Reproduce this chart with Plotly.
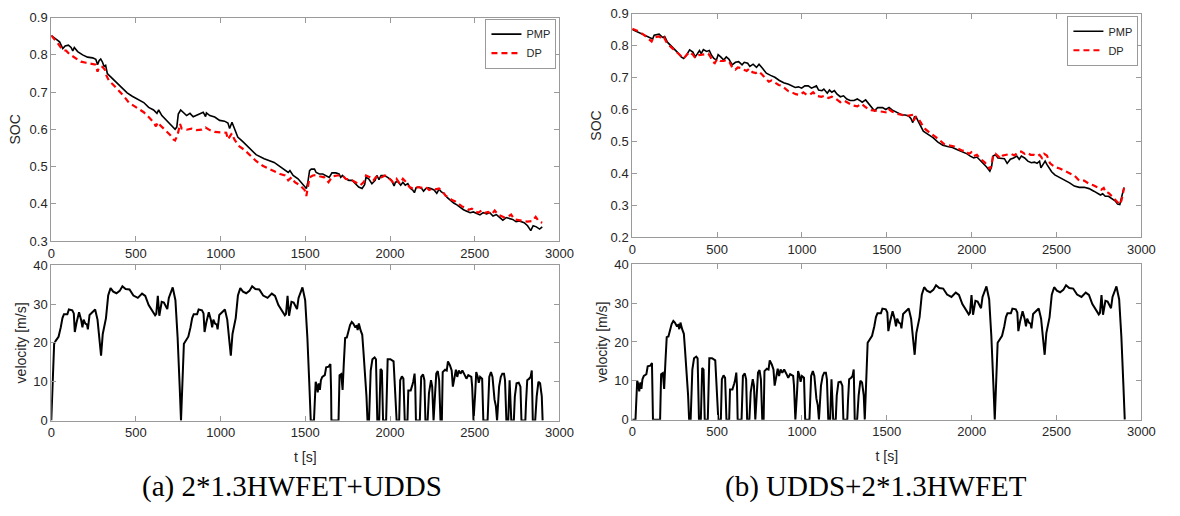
import plotly.graph_objects as go

# ---------------- Drive cycles ----------------
# HWFET cycle scaled by 1.3: time [s], speed [m/s]
hwfet_t = [0, 17, 27, 43, 56, 66, 75, 95, 104, 124, 133, 139, 149, 164, 176, 184, 191, 201,
           211, 216, 226, 240, 259, 273, 284, 294, 304, 313, 323, 336, 350, 366, 385, 404,
           420, 439, 462, 485, 511, 536, 555, 575, 594, 613, 620, 629, 638, 652, 665, 685,
           694, 717, 733, 746, 758, 766]
hwfet_v = [0, 19.8, 20.6, 21.6, 24.0, 26.4, 27.4, 27.4, 28.6, 28.4, 27.6, 22.8, 25.2, 27.9,
           26.0, 24.0, 26.0, 25.0, 24.7, 23.5, 27.2, 27.7, 28.6, 26.0, 21.9, 16.7, 22.3, 24.3,
           26.4, 32.2, 34.1, 33.2, 32.8, 33.4, 34.6, 33.9, 33.75, 32.2, 31.6, 32.7, 32.1,
           29.75, 28.5, 27.1, 27.5, 32.1, 27.0, 30.6, 30.4, 28.7, 31.6, 34.3, 31.0, 21.4, 8.9, 0]

# UDDS cycle: time [s], speed [m/s]
udds_t = [0, 19, 29, 35, 41, 48, 54, 60, 68, 83, 91, 106, 116, 120, 122, 164, 170, 180, 188,
          195, 203, 213, 222, 232, 242, 251, 261, 271, 277, 284, 294, 304, 311, 319, 329, 335,
          344, 354, 364, 377, 385, 393, 404, 412, 420, 427, 445, 454, 470, 489, 497, 507, 522,
          528, 538, 547, 555, 571, 576, 590, 600, 605, 613, 617, 621, 644, 652, 663, 671, 677,
          690, 698, 710, 717, 725, 733, 741, 750, 758, 766, 774, 779, 793, 803, 810, 822, 832,
          839, 847, 857, 865, 874, 884, 895, 907, 919, 930, 948, 953, 961, 971, 977, 986, 992,
          1000, 1012, 1019, 1044, 1054, 1064, 1073, 1085, 1093, 1100, 1112, 1122, 1131, 1141,
          1147, 1155, 1166, 1174, 1184, 1199, 1205, 1215, 1228, 1238, 1244, 1267, 1271, 1278,
          1290, 1298, 1305, 1311, 1325, 1334, 1344, 1354, 1364, 1369]
udds_v = [0, 0, 10.0, 9.2, 7.25, 9.6, 7.9, 10.4, 11.25, 11.7, 13.75, 13.9, 14.6, 8.0, 0, 0,
          11.7, 12.0, 7.9, 14.6, 21.25, 21.4, 22.75, 24.6, 25.4, 25.0, 24.2, 24.4, 23.3, 25.0,
          23.3, 22.1, 17.9, 12.9, 6.25, 0, 0, 12.9, 15.8, 16.25, 15.8, 0, 0, 13.3, 12.9, 0, 0,
          15.8, 15.8, 15.25, 8.75, 0, 0, 10.4, 11.4, 10.8, 0, 0, 7.75, 7.75, 9.2, 10.0, 12.1,
          8.75, 0, 0, 11.25, 11.9, 10.4, 0, 0, 7.1, 10.4, 8.75, 0, 7.1, 12.1, 12.75, 10.4, 0,
          0, 12.5, 13.1, 12.9, 15.25, 14.2, 12.9, 8.75, 11.25, 13.1, 11.25, 12.9, 12.1, 12.9,
          11.9, 10.8, 11.7, 11.25, 8.75, 0, 7.1, 12.5, 11.25, 9.75, 11.25, 10.8, 0, 0, 11.25,
          12.5, 11.25, 5.4, 3.75, 0, 8.75, 11.25, 12.1, 12.1, 10.4, 0, 0, 10.4, 0, 0, 6.25,
          9.6, 9.75, 8.75, 0, 0, 4.6, 10.4, 10.8, 11.25, 12.9, 0, 0, 6.25, 10.0, 9.6, 6.25, 0]

# Cycle start times within each combined route
route_a_hwfet_starts = [0, 766]
route_a_udds_start = 1532
route_b_udds_start = 0
route_b_hwfet_starts = [1370, 2136]

# ---------------- SOC trajectories ----------------
# (a) 2*1.3HWFET+UDDS
soc_a_pmp_t = [0, 29, 49, 68, 82, 101, 117, 127, 136, 156, 185, 214, 244, 263, 273, 283, 292,
               302, 312, 321, 331, 360, 390, 419, 448, 478, 517, 546, 575, 604, 624, 634, 653,
               682, 712, 731, 741, 750, 764, 780, 799, 819, 838, 868, 897, 911, 916, 936, 965,
               994, 1023, 1043, 1053, 1067, 1082, 1101, 1131, 1170, 1209, 1257, 1316, 1351,
               1380, 1399, 1409, 1428, 1457, 1486, 1506, 1515, 1525, 1535, 1554, 1564, 1583,
               1603, 1622, 1641, 1657, 1680, 1699, 1709, 1719, 1738, 1757, 1777, 1796, 1815,
               1835, 1850, 1858, 1874, 1893, 1912, 1922, 1935, 1947, 1966, 1986, 2009, 2024,
               2032, 2047, 2063, 2076, 2090, 2105, 2121, 2134, 2144, 2154, 2173, 2187, 2198,
               2212, 2225, 2241, 2260, 2276, 2289, 2303, 2318, 2337, 2357, 2376, 2395, 2415,
               2434, 2453, 2473, 2492, 2512, 2531, 2550, 2570, 2589, 2608, 2628, 2647, 2666,
               2686, 2705, 2724, 2744, 2763, 2792, 2812, 2831, 2845, 2864, 2883, 2899]
soc_a_pmp = [0.852, 0.842, 0.835, 0.817, 0.824, 0.826, 0.820, 0.811, 0.820, 0.809, 0.800,
             0.794, 0.792, 0.788, 0.774, 0.785, 0.789, 0.781, 0.769, 0.772, 0.750, 0.737,
             0.724, 0.709, 0.698, 0.689, 0.680, 0.672, 0.659, 0.652, 0.643, 0.652, 0.637,
             0.624, 0.611, 0.600, 0.606, 0.641, 0.652, 0.646, 0.637, 0.643, 0.634, 0.640,
             0.646, 0.634, 0.644, 0.637, 0.633, 0.624, 0.622, 0.617, 0.602, 0.619, 0.602,
             0.579, 0.567, 0.550, 0.532, 0.521, 0.511, 0.500, 0.491, 0.484, 0.489, 0.476,
             0.467, 0.451, 0.441, 0.458, 0.489, 0.493, 0.493, 0.484, 0.480, 0.480, 0.476,
             0.471, 0.483, 0.483, 0.480, 0.471, 0.476, 0.467, 0.463, 0.463, 0.454, 0.445,
             0.441, 0.451, 0.471, 0.467, 0.454, 0.463, 0.476, 0.465, 0.476, 0.476, 0.471,
             0.463, 0.448, 0.458, 0.460, 0.450, 0.458, 0.450, 0.454, 0.441, 0.437, 0.430,
             0.443, 0.445, 0.441, 0.434, 0.441, 0.443, 0.441, 0.437, 0.428, 0.439, 0.432,
             0.428, 0.417, 0.408, 0.402, 0.397, 0.389, 0.384, 0.380, 0.376, 0.378, 0.373,
             0.370, 0.376, 0.373, 0.376, 0.367, 0.371, 0.363, 0.356, 0.363, 0.361, 0.358,
             0.352, 0.354, 0.349, 0.341, 0.328, 0.341, 0.338, 0.332, 0.338]

soc_a_dp_t = [0, 19, 39, 64, 88, 107, 127, 146, 175, 205, 244, 263, 273, 283, 302, 318, 326,
              341, 370, 400, 429, 458, 487, 517, 546, 575, 604, 618, 630, 643, 673, 702, 721,
              731, 741, 750, 760, 770, 799, 828, 858, 887, 911, 936, 965, 1004, 1033, 1043,
              1058, 1066, 1082, 1111, 1140, 1170, 1209, 1248, 1296, 1335, 1351, 1380, 1399,
              1419, 1438, 1467, 1496, 1506, 1515, 1525, 1544, 1564, 1583, 1612, 1637, 1660,
              1690, 1719, 1738, 1767, 1796, 1825, 1845, 1858, 1883, 1902, 1916, 1931, 1950,
              1970, 1989, 2018, 2038, 2057, 2076, 2095, 2115, 2134, 2154, 2173, 2192, 2212,
              2231, 2250, 2270, 2289, 2308, 2328, 2347, 2366, 2386, 2405, 2425, 2444, 2463,
              2483, 2502, 2521, 2541, 2560, 2579, 2599, 2618, 2637, 2657, 2676, 2695, 2715,
              2734, 2753, 2783, 2812, 2841, 2860, 2880, 2899]
soc_a_dp = [0.852, 0.842, 0.831, 0.815, 0.811, 0.802, 0.796, 0.791, 0.782, 0.779, 0.776,
            0.774, 0.755, 0.768, 0.768, 0.759, 0.744, 0.730, 0.718, 0.704, 0.689, 0.672,
            0.663, 0.654, 0.646, 0.633, 0.619, 0.608, 0.619, 0.611, 0.598, 0.585, 0.573,
            0.570, 0.580, 0.593, 0.615, 0.602, 0.599, 0.602, 0.598, 0.599, 0.605, 0.598,
            0.593, 0.591, 0.591, 0.573, 0.585, 0.589, 0.572, 0.554, 0.545, 0.532, 0.515,
            0.502, 0.491, 0.483, 0.480, 0.476, 0.463, 0.471, 0.458, 0.450, 0.437, 0.421,
            0.445, 0.471, 0.476, 0.477, 0.474, 0.471, 0.458, 0.474, 0.476, 0.476, 0.467,
            0.465, 0.458, 0.450, 0.458, 0.476, 0.471, 0.463, 0.471, 0.476, 0.471, 0.476,
            0.471, 0.458, 0.467, 0.454, 0.467, 0.458, 0.445, 0.441, 0.445, 0.443, 0.443,
            0.445, 0.437, 0.441, 0.439, 0.441, 0.434, 0.422, 0.415, 0.410, 0.406, 0.399,
            0.393, 0.389, 0.384, 0.387, 0.380, 0.376, 0.382, 0.376, 0.378, 0.371, 0.382,
            0.371, 0.367, 0.363, 0.365, 0.371, 0.358, 0.356, 0.354, 0.352, 0.354, 0.365,
            0.352, 0.349]

# (b) UDDS+2*1.3HWFET
soc_b_pmp_t = [0, 33, 71, 100, 120, 129, 158, 178, 191, 207, 236, 265, 288, 303, 319, 338,
               357, 371, 384, 396, 406, 419, 438, 454, 467, 481, 496, 506, 521, 539, 554, 569,
               589, 608, 627, 647, 660, 680, 693, 712, 732, 747, 766, 790, 815, 840, 867, 892,
               921, 940, 960, 979, 998, 1017, 1037, 1056, 1071, 1085, 1098, 1118, 1129, 1149,
               1162, 1176, 1191, 1207, 1226, 1245, 1264, 1284, 1307, 1326, 1342, 1355, 1375,
               1394, 1408, 1427, 1446, 1475, 1494, 1513, 1533, 1552, 1571, 1590, 1609, 1628,
               1642, 1653, 1663, 1672, 1686, 1695, 1715, 1743, 1772, 1801, 1830, 1858, 1887,
               1916, 1944, 1973, 1992, 2012, 2031, 2050, 2069, 2088, 2107, 2117, 2126, 2140,
               2155, 2174, 2193, 2209, 2228, 2247, 2266, 2280, 2293, 2312, 2331, 2351, 2370,
               2385, 2400, 2408, 2420, 2433, 2443, 2458, 2471, 2490, 2519, 2548, 2577, 2605,
               2634, 2663, 2692, 2720, 2739, 2759, 2772, 2787, 2806, 2825, 2845, 2860, 2873,
               2883, 2893, 2898]
soc_b_pmp = [0.851, 0.843, 0.833, 0.826, 0.821, 0.833, 0.836, 0.826, 0.829, 0.811, 0.796,
             0.780, 0.765, 0.760, 0.770, 0.787, 0.780, 0.765, 0.775, 0.785, 0.775, 0.788,
             0.782, 0.785, 0.770, 0.760, 0.755, 0.772, 0.765, 0.755, 0.765, 0.758, 0.740,
             0.748, 0.750, 0.740, 0.748, 0.745, 0.735, 0.742, 0.732, 0.742, 0.730, 0.714,
             0.707, 0.701, 0.691, 0.684, 0.679, 0.674, 0.669, 0.671, 0.667, 0.674, 0.674,
             0.667, 0.671, 0.674, 0.661, 0.659, 0.664, 0.651, 0.661, 0.654, 0.659, 0.648,
             0.640, 0.643, 0.633, 0.628, 0.628, 0.633, 0.628, 0.623, 0.630, 0.618, 0.608,
             0.596, 0.606, 0.606, 0.600, 0.606, 0.598, 0.593, 0.586, 0.583, 0.583, 0.580,
             0.572, 0.559, 0.577, 0.577, 0.562, 0.552, 0.532, 0.522, 0.512, 0.498, 0.488,
             0.484, 0.481, 0.474, 0.468, 0.461, 0.454, 0.448, 0.451, 0.441, 0.431, 0.420,
             0.407, 0.420, 0.454, 0.458, 0.448, 0.448, 0.446, 0.431, 0.444, 0.448, 0.454,
             0.444, 0.454, 0.448, 0.438, 0.433, 0.435, 0.431, 0.438, 0.417, 0.428, 0.438,
             0.428, 0.415, 0.405, 0.395, 0.387, 0.380, 0.370, 0.360, 0.356, 0.356, 0.352,
             0.344, 0.339, 0.332, 0.336, 0.328, 0.328, 0.322, 0.314, 0.304, 0.302, 0.324,
             0.349, 0.356]

soc_b_dp_t = [0, 33, 71, 100, 114, 125, 158, 178, 187, 207, 236, 265, 288, 303, 322, 338,
              357, 371, 390, 409, 429, 448, 461, 473, 486, 500, 519, 539, 554, 573, 589, 608,
              622, 641, 654, 674, 689, 708, 728, 747, 766, 786, 805, 820, 840, 863, 882, 901,
              921, 940, 963, 988, 1008, 1027, 1046, 1066, 1085, 1114, 1133, 1156, 1176, 1201,
              1226, 1249, 1272, 1297, 1326, 1350, 1369, 1394, 1408, 1446, 1475, 1504, 1513,
              1533, 1561, 1590, 1619, 1648, 1657, 1672, 1686, 1705, 1724, 1753, 1782, 1810,
              1839, 1868, 1897, 1925, 1944, 1963, 1983, 1998, 2012, 2031, 2050, 2075, 2094,
              2107, 2117, 2126, 2140, 2155, 2170, 2184, 2209, 2232, 2251, 2266, 2280, 2293,
              2312, 2328, 2347, 2366, 2385, 2400, 2414, 2427, 2443, 2462, 2490, 2519, 2548,
              2577, 2605, 2634, 2663, 2692, 2720, 2749, 2764, 2778, 2791, 2806, 2825, 2845,
              2860, 2873, 2883, 2893, 2898]
soc_b_dp = [0.853, 0.846, 0.833, 0.821, 0.813, 0.826, 0.829, 0.821, 0.826, 0.806, 0.793,
            0.780, 0.768, 0.760, 0.772, 0.780, 0.772, 0.762, 0.770, 0.772, 0.775, 0.775,
            0.765, 0.750, 0.745, 0.758, 0.752, 0.752, 0.755, 0.748, 0.732, 0.725, 0.732,
            0.730, 0.725, 0.721, 0.728, 0.717, 0.714, 0.719, 0.709, 0.697, 0.687, 0.691,
            0.684, 0.677, 0.674, 0.667, 0.657, 0.654, 0.648, 0.646, 0.654, 0.646, 0.646,
            0.654, 0.643, 0.640, 0.643, 0.636, 0.640, 0.633, 0.623, 0.628, 0.620, 0.613,
            0.610, 0.618, 0.610, 0.600, 0.598, 0.596, 0.593, 0.590, 0.600, 0.593, 0.586,
            0.583, 0.580, 0.583, 0.565, 0.577, 0.572, 0.555, 0.540, 0.527, 0.517, 0.505,
            0.491, 0.488, 0.484, 0.476, 0.471, 0.471, 0.461, 0.466, 0.454, 0.458, 0.446,
            0.435, 0.425, 0.413, 0.425, 0.458, 0.461, 0.454, 0.446, 0.456, 0.458, 0.461,
            0.456, 0.461, 0.468, 0.468, 0.461, 0.464, 0.458, 0.458, 0.454, 0.458, 0.448,
            0.461, 0.456, 0.431, 0.420, 0.415, 0.407, 0.400, 0.393, 0.377, 0.377, 0.367,
            0.362, 0.354, 0.349, 0.354, 0.339, 0.339, 0.329, 0.319, 0.309, 0.302, 0.316,
            0.344, 0.354]

x_ticks = [0, 500, 1000, 1500, 2000, 2500, 3000]
captions = ["(a) 2*1.3HWFET+UDDS", "(b) UDDS+2*1.3HWFET"]


def place(ts, start):
    return [t + start for t in ts]


vel_a_t, vel_a_v = [], []
for s in route_a_hwfet_starts:
    vel_a_t += place(hwfet_t, s)
    vel_a_v += hwfet_v
vel_a_t += place(udds_t, route_a_udds_start)
vel_a_v += udds_v

vel_b_t = place(udds_t, route_b_udds_start)
vel_b_v = list(udds_v)
for s in route_b_hwfet_starts:
    vel_b_t += place(hwfet_t, s)
    vel_b_v += hwfet_v

# ---------------- Figure ----------------
W, H = 1180, 516
AX_COL = "#9a9a9a"
TXT_COL = "#262626"
FONT = "Liberation Sans, Arial, sans-serif"


def px_x(a, b):
    return [a / W, b / W]


def px_y(top, bottom):
    return [1 - bottom / H, 1 - top / H]


fig = go.Figure()

pmp_line = dict(color="black", width=1.6)
dp_line = dict(color="#ff0000", width=2.2, dash="6px,4px")
vel_line = dict(color="black", width=2)

fig.add_trace(go.Scatter(x=soc_a_pmp_t, y=soc_a_pmp, mode="lines", name="PMP", line=pmp_line,
                         xaxis="x", yaxis="y", legend="legend"))
fig.add_trace(go.Scatter(x=soc_a_dp_t, y=soc_a_dp, mode="lines", name="DP", line=dp_line,
                         xaxis="x", yaxis="y", legend="legend"))
fig.add_trace(go.Scatter(x=vel_a_t, y=vel_a_v, mode="lines", line=vel_line, showlegend=False,
                         xaxis="x2", yaxis="y2"))
fig.add_trace(go.Scatter(x=soc_b_pmp_t, y=soc_b_pmp, mode="lines", name="PMP", line=pmp_line,
                         xaxis="x3", yaxis="y3", legend="legend2"))
fig.add_trace(go.Scatter(x=soc_b_dp_t, y=soc_b_dp, mode="lines", name="DP", line=dp_line,
                         xaxis="x3", yaxis="y3", legend="legend2"))
fig.add_trace(go.Scatter(x=vel_b_t, y=vel_b_v, mode="lines", line=vel_line, showlegend=False,
                         xaxis="x4", yaxis="y4"))

axis_common = dict(
    showgrid=False, zeroline=False, showline=True, linecolor=AX_COL, linewidth=1,
    mirror="ticks", ticks="inside", ticklen=5, tickcolor=AX_COL, tickwidth=1,
    tickfont=dict(family=FONT, size=13, color=TXT_COL),
)

xa = dict(range=[0, 3000], tickvals=x_ticks, tickformat="d", **axis_common)
title_font = dict(family=FONT, size=14, color=TXT_COL)
legend_style = dict(xanchor="right", yanchor="top", bgcolor="white", bordercolor=AX_COL,
                    borderwidth=1, font=dict(family=FONT, size=11, color=TXT_COL),
                    itemwidth=30, tracegroupgap=0)

fig.update_layout(
    width=W, height=H, margin=dict(l=0, r=0, t=0, b=0),
    paper_bgcolor="white", plot_bgcolor="white",
    xaxis=dict(domain=px_x(48, 564), anchor="y", **xa),
    yaxis=dict(domain=px_y(11, 241), anchor="x", range=[0.3, 0.9], dtick=0.1, tickformat=".1f",
               title=dict(text="SOC", font=title_font, standoff=5), **axis_common),
    xaxis2=dict(domain=px_x(48, 564), anchor="y2",
                title=dict(text="t [s]", font=title_font, standoff=12), **xa),
    yaxis2=dict(domain=px_y(266, 426), anchor="x2", range=[0, 40], dtick=10,
                title=dict(text="velocity [m/s]", font=title_font, standoff=3), **axis_common),
    xaxis3=dict(domain=px_x(638, 1155), anchor="y3", **xa),
    yaxis3=dict(domain=px_y(7, 237), anchor="x3", range=[0.2, 0.9], dtick=0.1, tickformat=".1f",
                title=dict(text="SOC", font=title_font, standoff=5), **axis_common),
    xaxis4=dict(domain=px_x(638, 1155), anchor="y4",
                title=dict(text="t [s]", font=title_font, standoff=12), **xa),
    yaxis4=dict(domain=px_y(265, 425), anchor="x4", range=[0, 40], dtick=10,
                title=dict(text="velocity [m/s]", font=title_font, standoff=3), **axis_common),
    legend=dict(x=561 / W, y=1 - 12 / H, **legend_style),
    legend2=dict(x=1152 / W, y=1 - 9 / H, **legend_style),
)

for cx, text in zip([292, 885], captions):
    fig.add_annotation(x=cx / W, y=1 - 494 / H, xref="paper", yref="paper", text=text,
                       showarrow=False, xanchor="center", yanchor="middle",
                       font=dict(family="Liberation Serif, Times New Roman, serif", size=29,
                                 color="black"))

fig.write_html("out.html")
